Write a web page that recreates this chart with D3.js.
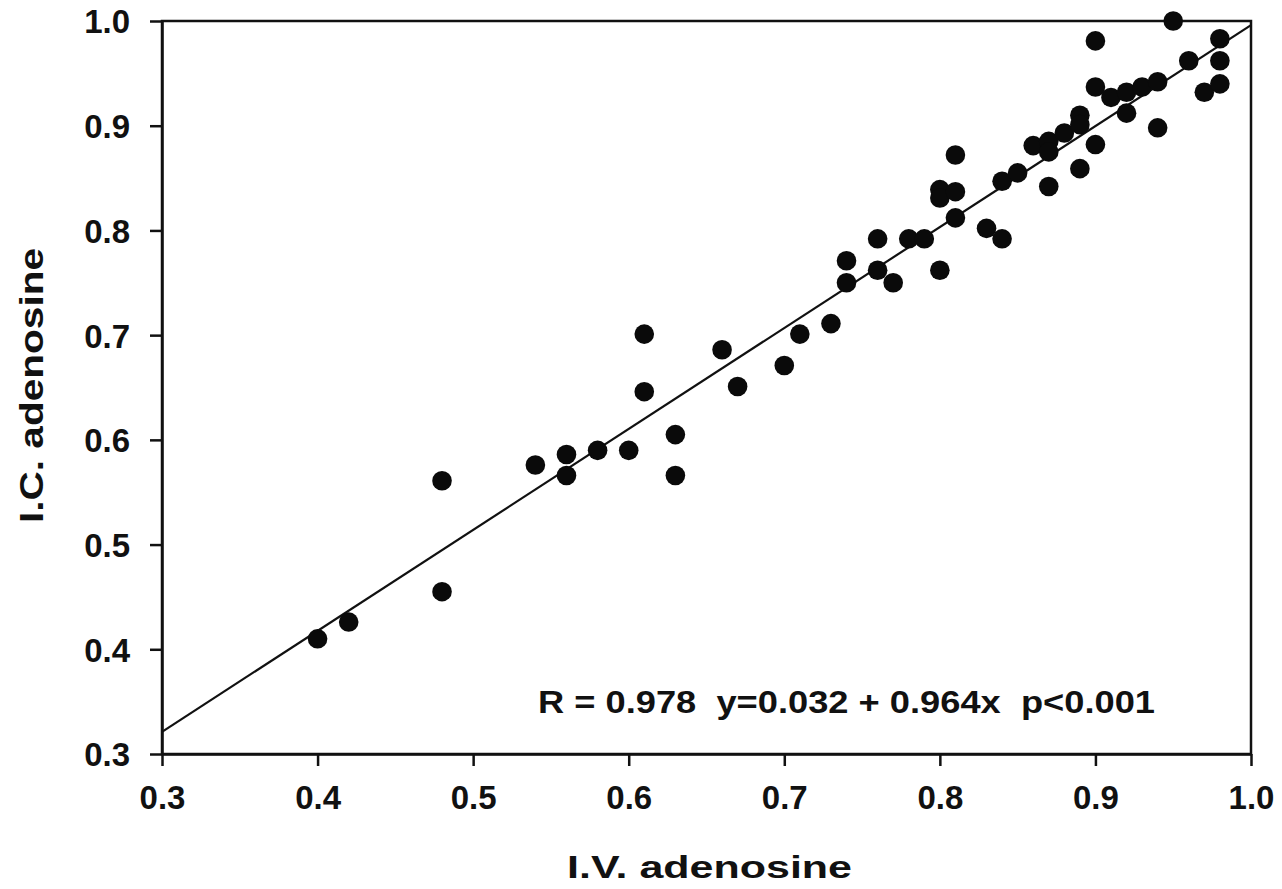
<!DOCTYPE html>
<html>
<head>
<meta charset="utf-8">
<script src="https://cdn.jsdelivr.net/npm/d3@7"></script>
<style>
  html, body { margin: 0; padding: 0; background: #fff; }
  svg { display: block; }
  text { font-family: "Liberation Sans", Arial, Helvetica, sans-serif; font-weight: bold; fill: #111; }
</style>
</head>
<body>
<svg id="chart" width="1282" height="889"></svg>
<script>
// ---- data ----
const ivAdenosine = [0.40, 0.42, 0.48, 0.48, 0.54, 0.56, 0.56, 0.58, 0.60, 0.61,
  0.61, 0.63, 0.63, 0.66, 0.67, 0.70, 0.71, 0.73, 0.74, 0.74,
  0.76, 0.76, 0.77, 0.78, 0.79, 0.80, 0.80, 0.81, 0.81, 0.81,
  0.80, 0.83, 0.84, 0.84, 0.85, 0.86, 0.87, 0.87, 0.87, 0.88,
  0.89, 0.89, 0.89, 0.90, 0.90, 0.90, 0.91, 0.92, 0.92, 0.93,
  0.94, 0.94, 0.95, 0.96, 0.97, 0.98, 0.98, 0.98];
const icAdenosine = [0.410, 0.426, 0.561, 0.455, 0.576, 0.586, 0.566, 0.590, 0.590, 0.701,
  0.646, 0.605, 0.566, 0.686, 0.651, 0.671, 0.701, 0.711, 0.771, 0.750,
  0.792, 0.762, 0.750, 0.792, 0.792, 0.839, 0.831, 0.837, 0.872, 0.812,
  0.762, 0.802, 0.792, 0.847, 0.855, 0.881, 0.885, 0.875, 0.842, 0.893,
  0.910, 0.901, 0.859, 0.882, 0.981, 0.937, 0.927, 0.932, 0.912, 0.937,
  0.942, 0.898, 1.000, 0.962, 0.932, 0.983, 0.962, 0.940];
const xTicks = [0.3, 0.4, 0.5, 0.6, 0.7, 0.8, 0.9, 1.0];
const yTicks = [0.3, 0.4, 0.5, 0.6, 0.7, 0.8, 0.9, 1.0];
const fitIntercept = 0.032;
const fitSlope = 0.964;
const xTitle = "I.V. adenosine";
const yTitle = "I.C. adenosine";
const annotation = "R = 0.978  y=0.032 + 0.964x  p<0.001";

// ---- layout ----
const svg = d3.select("#chart");
const mLeft = 162, mRight = 1251, mTop = 21, mBottom = 754;
const x = d3.scaleLinear().domain([0.3, 1.0]).range([mLeft, mRight]);
const y = d3.scaleLinear().domain([0.3, 1.0]).range([mBottom, mTop]);
const tickLen = 12;

// frame
svg.append("rect")
  .attr("x", mLeft).attr("y", mTop)
  .attr("width", mRight - mLeft).attr("height", mBottom - mTop)
  .attr("fill", "none").attr("stroke", "#111").attr("stroke-width", 2.5);

// axes
const xAxis = svg.append("g")
  .attr("transform", `translate(0,${mBottom})`)
  .call(d3.axisBottom(x).tickValues(xTicks).tickFormat(d3.format(".1f"))
    .tickSize(tickLen).tickSizeOuter(0).tickPadding(20));
const yAxis = svg.append("g")
  .attr("transform", `translate(${mLeft},0)`)
  .call(d3.axisLeft(y).tickValues(yTicks).tickFormat(d3.format(".1f"))
    .tickSize(tickLen).tickSizeOuter(0).tickPadding(20));
[xAxis, yAxis].forEach(g => {
  g.select(".domain").attr("stroke", "#111").attr("stroke-width", 2.5);
  g.selectAll(".tick line").attr("stroke", "#111").attr("stroke-width", 2.5);
  g.selectAll(".tick text")
    .attr("fill", "#111")
    .style("font-family", '"Liberation Sans", Arial, sans-serif')
    .style("font-weight", "bold")
    .style("font-size", "33px");
});
xAxis.selectAll(".tick text").attr("dy", "0.71em");
yAxis.selectAll(".tick text").attr("dy", "0.36em");

// regression line
svg.append("line")
  .attr("x1", x(0.3)).attr("y1", y(fitIntercept + fitSlope * 0.3))
  .attr("x2", x(1.0)).attr("y2", y(fitIntercept + fitSlope * 1.0))
  .attr("stroke", "#111").attr("stroke-width", 2.2);

// points
const pts = ivAdenosine.map((v, i) => ({ x: v, y: icAdenosine[i] }));
svg.append("g").selectAll("circle").data(pts).join("circle")
  .attr("cx", d => x(d.x)).attr("cy", d => y(d.y))
  .attr("r", 9.8).attr("fill", "#0a0a0a");

// annotation
svg.append("text")
  .attr("x", 538).attr("y", 713)
  .style("white-space", "pre")
  .attr("textLength", 617).attr("lengthAdjust", "spacingAndGlyphs")
  .style("font-size", "32px")
  .text(annotation);

// axis titles
svg.append("text")
  .attr("x", 567).attr("y", 878)
  .attr("textLength", 285).attr("lengthAdjust", "spacingAndGlyphs")
  .style("font-size", "32px")
  .text(xTitle);

svg.append("text")
  .attr("transform", "translate(43,523) rotate(-90)")
  .attr("x", 0).attr("y", 0)
  .attr("textLength", 275).attr("lengthAdjust", "spacingAndGlyphs")
  .style("font-size", "34px")
  .text(yTitle);
</script>
</body>
</html>
